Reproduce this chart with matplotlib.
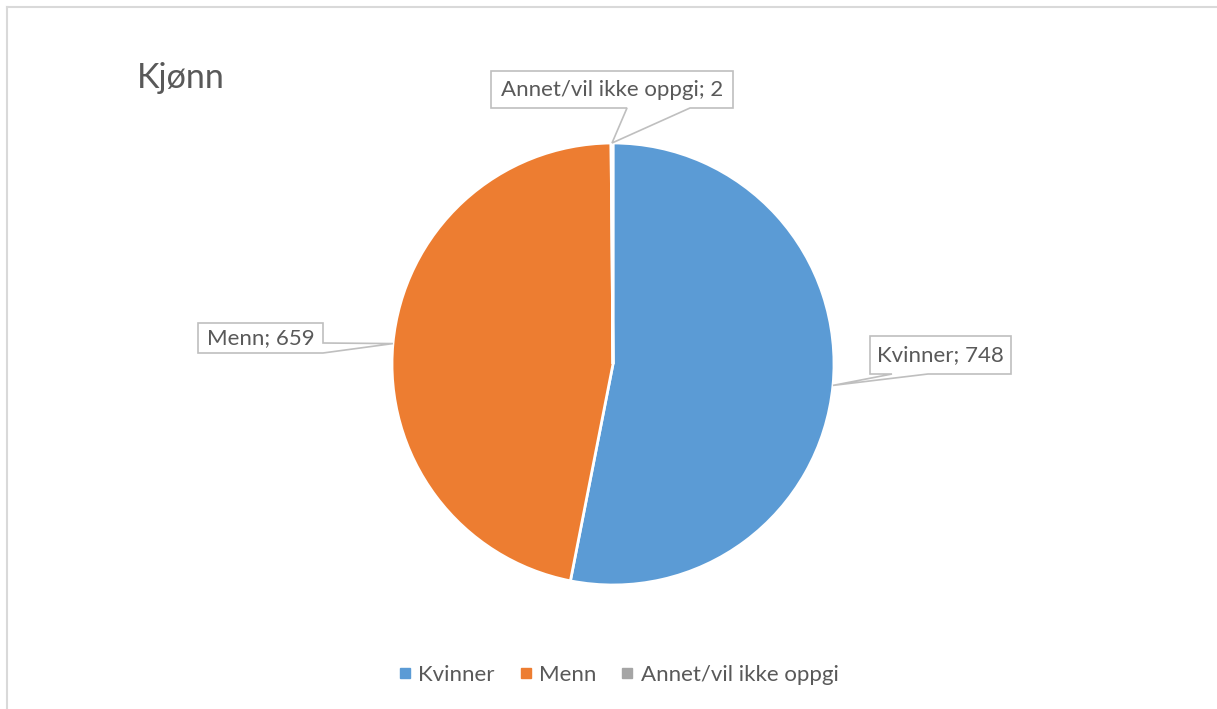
import matplotlib.pyplot as plt
from matplotlib.patches import Polygon
from matplotlib.lines import Line2D
import numpy as np

plt.rcParams['font.family'] = ['Lato', 'DejaVu Sans']

labels = ["Kvinner", "Menn", "Annet/vil ikke oppgi"]
values = [748, 659, 2]
colors = ["#5B9BD5", "#ED7D31", "#A5A5A5"]

W, H = 1217, 709
text_col = "#595959"
edge_col = "#BFBFBF"

fig = plt.figure(figsize=(W / 100, H / 100), dpi=100)
ax = fig.add_axes([0, 0, 1, 1])

cx, cy, r = 613, 364, 221  # pixel coords (y down)


def fy(py):
    return H - py


wedges, _ = ax.pie(values, colors=colors, startangle=90, counterclock=False,
                   radius=r, center=(cx, fy(cy)),
                   wedgeprops=dict(edgecolor="white", linewidth=2))
ax.set_xlim(0, W)
ax.set_ylim(0, H)
ax.set_aspect("auto")
ax.axis("off")

# tip point on the rim for each slice (mid angle)
tot = sum(values)
tips = []
acc = 0
for v in values:
    mid = (acc + v / 2) / tot
    ang = np.deg2rad(90 - mid * 360)
    tips.append((cx + r * np.cos(ang), cy - r * np.sin(ang)))
    acc += v

# callout boxes: (x0, y0, x1, y1) in pixels, tail side and base
boxes = [
    ((870, 336, 1011, 374), "bottom", (892, 928)),
    ((198, 323, 323, 353), "right", (343, 353)),
    ((491, 71, 733, 108), "bottom", (627, 690)),
]

for i, (box, side, base) in enumerate(boxes):
    x0, y0, x1, y1 = box
    tx, ty = tips[i]
    if side == "bottom":
        pts = [(x0, y0), (x1, y0), (x1, y1), (base[1], y1), (tx, ty),
               (base[0], y1), (x0, y1)]
    else:
        pts = [(x0, y0), (x1, y0), (x1, base[0]), (tx, ty), (x1, base[1]),
               (x0, y1)]
    pts = [(px, fy(py)) for px, py in pts]
    ax.add_patch(Polygon(pts, closed=True, facecolor="white",
                         edgecolor=edge_col, linewidth=1.2, zorder=5))
    ax.text((x0 + x1) / 2, fy((y0 + y1) / 2), f"{labels[i]}; {values[i]}",
            ha="center", va="center", fontsize=16, color=text_col, zorder=6)

ax.text(137, fy(78), "Kjønn", fontsize=24.5, color=text_col, ha="left", va="center")

# frame
ax.plot([6.5, W], [fy(6.5), fy(6.5)], color="#D9D9D9", lw=1.5, clip_on=False)
ax.plot([6.5, 6.5], [fy(6.5), 0], color="#D9D9D9", lw=1.5, clip_on=False)

handles = [Line2D([], [], marker="s", linestyle="none", markersize=6.5,
                  markerfacecolor=c, markeredgecolor=c) for c in colors]
ax.legend(handles, labels, loc="center", bbox_to_anchor=(616 / W, 1 - 675 / H),
          ncol=3, frameon=False, fontsize=16, labelcolor=text_col,
          handletextpad=0.1, columnspacing=0.9, handlelength=1.0)

fig.savefig("out.png", dpi=100)
